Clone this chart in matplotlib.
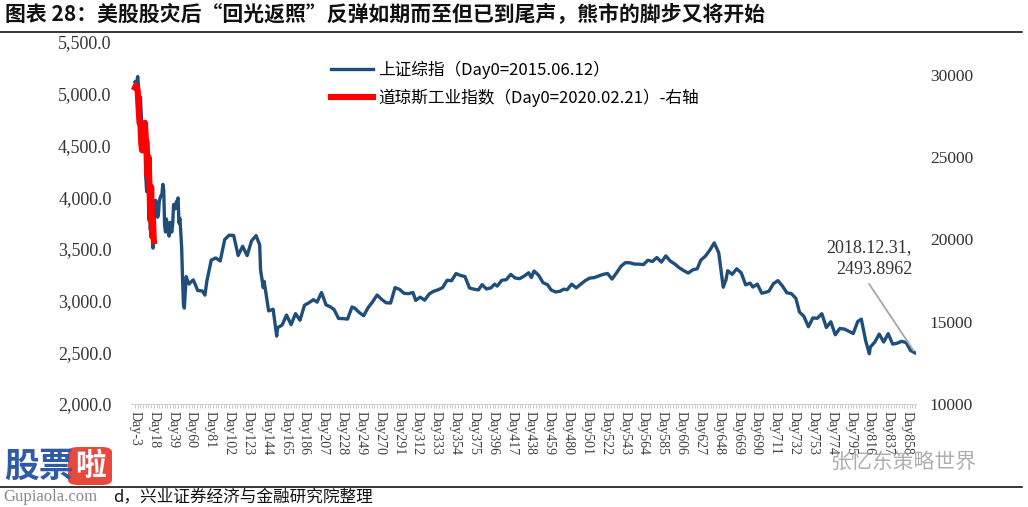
import matplotlib
matplotlib.use("Agg")
import matplotlib.pyplot as plt
from matplotlib.lines import Line2D
from matplotlib.patches import FancyBboxPatch

plt.rcParams['font.family'] = ['Noto Sans CJK SC', 'DejaVu Sans']

# 上证综指 (Day0 = 2015.06.12): daily for the first crash, then weekly closes
sh_day = list(range(-3, 56)) + [
    57, 62, 67, 72, 75, 77, 82, 87, 92, 97, 102, 107, 112, 117, 122, 127, 132, 136,
    137, 140, 141, 146, 151, 155, 156, 161, 166, 171, 176, 181, 186, 191, 196, 200,
    205, 210, 215, 219, 224, 229, 234, 239, 242, 247, 252, 257, 262, 267, 272, 277,
    282, 287, 292, 297, 302, 307, 310, 315, 320, 325, 330, 335, 340, 345, 350, 355,
    360, 365, 370, 375, 380,
    384, 389, 394, 398, 401, 406, 411, 416, 421, 426, 431, 436, 439, 442, 447, 452,
    457, 461, 466, 471, 475, 479, 484, 489, 494, 499, 504, 509, 514, 519, 524, 529,
    534, 539, 544, 549, 554, 559, 564, 569, 574, 579, 584, 589, 594, 599, 604, 609,
    614, 619, 624,
    628, 633, 638, 643, 648, 653, 656, 658, 663, 668, 673, 678, 683, 686, 691, 696,
    701, 704, 709, 714, 719, 724, 729, 734, 738, 743, 748, 753, 758, 763, 768, 773,
    778, 783, 788, 793, 798, 803, 807, 812, 816, 817, 822, 827, 832, 837, 842, 847,
    852, 857, 862, 867]
sh_val = [
    5113, 5106, 5121, 5166, 5062, 4887, 4967, 4786, 4478, 4577, 4691, 4528, 4192,
    4053, 4277, 4054, 3913, 3687, 3776, 3728, 3507, 3710, 3878, 3970, 3925, 3806,
    3823, 3957, 3992, 4017, 4027, 4124, 4070, 3726, 3663, 3789, 3706, 3664, 3623,
    3757, 3695, 3662, 3744, 3928, 3928, 3887, 3955, 3965, 3993, 3749, 3795, 3664,
    3508, 3210, 2965, 2927, 3084, 3232, 3206,
    3160, 3200, 3097, 3093, 3053, 3183, 3391, 3412, 3383, 3590, 3632, 3630, 3436,
    3525, 3435, 3578, 3628, 3539,
    3297, 3125, 3186, 2900, 2916, 2656, 2738, 2763, 2860, 2767, 2874, 2810, 2955,
    2979, 3009, 2985, 3078, 2959, 2938, 2913, 2827, 2826, 2821, 2938, 2927, 2885,
    2854, 2932, 2989, 3054, 3012, 2979, 2976, 3125, 3108, 3070, 3067, 3078, 3002,
    3033, 3004, 3063, 3090, 3104, 3125, 3196, 3192, 3261, 3243, 3232, 3122, 3110,
    3103,
    3154, 3112, 3123, 3159, 3140, 3196, 3202, 3253, 3218, 3212, 3237, 3269, 3222,
    3286, 3246, 3173, 3154, 3103, 3083, 3090, 3110, 3105, 3158, 3123, 3157, 3192,
    3217, 3222, 3237, 3253, 3262, 3208, 3268, 3332, 3367, 3365, 3353, 3352, 3348,
    3390, 3378, 3416, 3372, 3432, 3382, 3353, 3317, 3289, 3266, 3297, 3307,
    3391, 3429, 3487, 3558, 3462, 3129, 3199, 3289, 3254, 3307, 3269, 3152, 3169,
    3131, 3159, 3071, 3082, 3091, 3163, 3193, 3141, 3075, 3067, 3022, 2890, 2847,
    2747, 2832, 2829, 2873, 2740, 2795, 2669, 2730, 2725, 2703, 2682, 2797, 2821,
    2606, 2486, 2550, 2598, 2676, 2599, 2680, 2579, 2588, 2606, 2594, 2516, 2494]

# 道琼斯工业指数 (Day0 = 2020.02.21), right axis
dow_day = list(range(-3, 19))
dow_val = [29232, 29348, 29219, 28992, 27961, 27081, 26957, 25766, 25409, 26703,
           25917, 27091, 26121, 25865, 23851, 25018, 23553, 21200, 23186, 20189,
           21237, 19899]

label_days = list(range(-3, 859, 21))
left_ticks = [2000, 2500, 3000, 3500, 4000, 4500, 5000, 5500]
right_ticks = [10000, 15000, 20000, 25000, 30000]

blue = '#1F4E79'
red = '#FF0000'
num_font = 'Liberation Serif'

fig = plt.figure(figsize=(10.28, 5.07), dpi=100)
ax = fig.add_axes([131 / 1028, 103 / 507, 785 / 1028, 362 / 507])
ax2 = ax.twinx()

l1, = ax.plot(sh_day, sh_val, color=blue, lw=2.4, solid_joinstyle='round')
l2, = ax2.plot(dow_day, dow_val, color=red, lw=4.4, solid_joinstyle='round')

ax.set_xlim(-7.5, 868)
ax.set_ylim(2000, 5500)
ax2.set_ylim(10000, 32000)

ax.set_yticks(left_ticks, [f'{v:,.1f}' for v in left_ticks],
              fontfamily=num_font, fontsize=13, color='#333333')
ax2.set_yticks(right_ticks, [str(v) for v in right_ticks],
               fontfamily=num_font, fontsize=12.5, color='#333333')
ax.set_xticks(label_days, [f'Day{d}' for d in label_days], rotation=-90,
              fontfamily=num_font, fontsize=10, color='#404040')
ax.set_xticks(range(-3, 868, 3), minor=True)

ax.tick_params(axis='y', length=0, pad=14)
ax2.tick_params(axis='y', length=0, pad=10)
ax.tick_params(axis='x', which='both', length=3, width=0.7, color='#c8c8c8', pad=2)

for s in ['top', 'left', 'right']:
    ax.spines[s].set_visible(False)
ax.spines['bottom'].set_color('#d0d0d0')
for s in ax2.spines.values():
    s.set_visible(False)

# legend
ax.legend([l1, l2], ['上证综指（Day0=2015.06.12）', '道琼斯工业指数（Day0=2020.02.21）-右轴'],
          loc='upper left', bbox_to_anchor=(0.236, 0.99), frameon=False,
          fontsize=12, handlelength=2.5, handletextpad=0.3, labelspacing=0.6)

# annotation of the last point
ax.annotate('2018.12.31,\n2493.8962', xy=(sh_day[-1], sh_val[-1]),
            xytext=(-3, 75), textcoords='offset pixels', ha='right', va='bottom',
            multialignment='right', fontfamily=num_font, fontsize=13,
            color='#333333', linespacing=1.35)
ax.annotate('', xy=(sh_day[-1], sh_val[-1]), xytext=(-46, 69),
            textcoords='offset pixels',
            arrowprops=dict(arrowstyle='-', color='#a6a6a6', lw=1.3,
                            shrinkA=0, shrinkB=2))

# title and footer
fig.text(5 / 1028, 1 - 15 / 507,
         '图表 28：美股股灾后“回光返照”反弹如期而至但已到尾声，熊市的脚步又将开始',
         ha='left', va='center', fontsize=15, fontweight='bold', color='#111111')
fig.add_artist(Line2D([0, 1022 / 1028], [1 - 32 / 507] * 2, color='black', lw=1.1))
fig.add_artist(Line2D([0, 1022 / 1028], [1 - 487 / 507] * 2, color='black', lw=1.1))
fig.text(113 / 1028, 1 - 497 / 507, 'd，兴业证券经济与金融研究院整理',
         ha='left', va='center', fontsize=12, color='#111111')

# watermarks
fig.text(4 / 1028, 1 - 466 / 507, '股票', ha='left', va='center', fontsize=25,
         fontweight='bold', color='#2f5aa8')
fig.add_artist(FancyBboxPatch((68 / 1028, 1 - 485 / 507), 44 / 1028, 38 / 507,
                              boxstyle='round,pad=0,rounding_size=0.01',
                              facecolor='#e8493d', edgecolor='none',
                              transform=fig.transFigure))
fig.text(90 / 1028, 1 - 466 / 507, '啦', ha='center', va='center', fontsize=22,
         fontweight='bold', color='white')
fig.text(3 / 1028, 1 - 497 / 507, 'Gupiaola.com', ha='left', va='center',
         fontsize=12, fontfamily=num_font, color='#8a8a8a')
fig.text(830 / 1028, 1 - 462 / 507, '张忆东策略世界', ha='left', va='center',
         fontsize=15, color='#9a9a9a', alpha=0.8)

fig.savefig('out.png', dpi=100)
